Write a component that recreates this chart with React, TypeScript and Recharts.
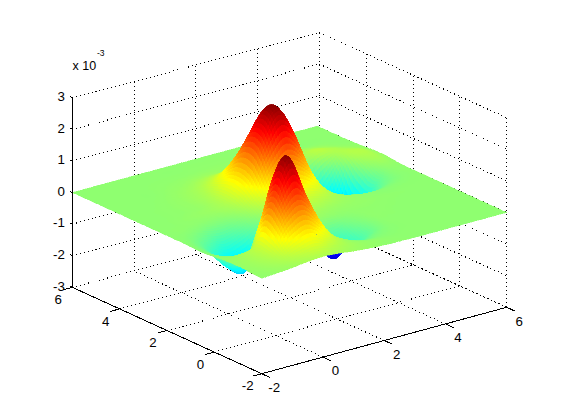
import { Scatter, ScatterChart, XAxis, YAxis } from "recharts";

const WIDTH = 561;
const HEIGHT = 420;

const X_VALUES = [-2, -1.5, -1, -0.5, 0, 0.5, 1, 1.5, 2, 2.5, 3, 3.5, 4, 4.5, 5, 5.5, 6];
const Y_VALUES = [-2, -1.5, -1, -0.5, 0, 0.5, 1, 1.5, 2, 2.5, 3, 3.5, 4, 4.5, 5, 5.5, 6];

// surface height in units of 1e-3, one row per y value, one column per x value
const Z_ROWS = [
  [0.02, 0.05, 0.09, 0.15, 0.18, 0.15, 0.09, 0.05, 0.02, 0.01, 0, 0, 0, 0, 0, 0, 0],
  [0.04, 0.1, 0.23, 0.48, 0.63, 0.38, 0.18, 0.06, 0.01, -0.01, 0, 0, 0, 0, 0, 0, 0],
  [0.06, 0.15, 0.4, 1.25, 1.63, 1.05, 0.32, -0.02, -0.22, -0.1, -0.02, 0, 0, 0, 0, 0, 0],
  [0.05, 0.12, 0.4, 1.7, 2.84, 1.6, 0.45, -0.25, -0.6, -0.3, -0.03, 0, 0, 0, 0, 0, 0],
  [0.01, -0.13, -0.42, 0.75, 2.1, 1.2, 0.38, -0.2, -0.42, -0.15, 0, 0.01, 0, 0, 0, 0, 0],
  [-0.02, -0.3, -0.8, -0.9, 0.25, 0.4, 0.3, 0.12, 0, 0, 0.02, 0.02, 0.01, 0, 0, 0, 0],
  [-0.01, -0.25, -0.78, -1.1, -0.95, -0.5, -0.1, 0.1, 0.16, 0.11, 0.07, 0.04, 0.01, 0, 0, 0, 0],
  [0, -0.1, -0.32, -0.58, -0.42, -0.15, 0.15, 0.38, 0.51, 0.39, 0.18, 0.01, -0.1, -0.1, -0.04, -0.01, 0],
  [0, 0, -0.04, -0.1, -0.08, 0.1, 0.45, 1.12, 1.5, 1.1, 0.3, -0.4, -0.8, -0.62, -0.23, -0.04, 0],
  [0, 0, 0.02, 0.04, 0.09, 0.26, 0.85, 1.98, 2.71, 1.96, 0.35, -1.2, -2.3, -1.7, -0.48, -0.02, 0.01],
  [0, 0, 0.01, 0.03, 0.08, 0.3, 0.9, 1.98, 2.65, 1.9, 0.3, -1.35, -2.5, -1.75, -0.25, 0.14, 0.05],
  [0, 0, 0.01, 0.03, 0.08, 0.22, 0.62, 1.2, 1.39, 1.02, 0.2, -0.7, -1.25, -0.65, 0.1, 0.22, 0.06],
  [0, 0, 0, 0.02, 0.06, 0.14, 0.3, 0.5, 0.45, 0.35, 0.15, -0.06, -0.05, 0.2, 0.2, 0.12, 0.03],
  [0, 0, 0, 0, 0.03, 0.06, 0.12, 0.16, 0.13, 0.11, 0.07, 0.03, 0.08, 0.15, 0.1, 0.03, 0.01],
  [0, 0, 0, 0, 0.01, 0.02, 0.03, 0.04, 0.04, 0.04, 0.03, 0.02, 0.01, 0, 0, 0, 0],
  [0, 0, 0, 0, 0, 0, 0, 0.01, 0.01, 0.01, 0, 0, 0, 0, 0, 0, 0],
  [0, 0, 0, 0, 0, 0, 0, 0, 0, 0, 0, 0, 0, 0, 0, 0, 0],
];

const X_TICKS = [-2, 0, 2, 4, 6];
const Y_TICKS = [-2, 0, 2, 4, 6];
const Z_TICKS = [-3, -2, -1, 0, 1, 2, 3];

const Z_MIN = -3.08;
const Z_MAX = 2.9;
const SUBDIV = 8;

// default matlab view, fitted to the box corners in the picture
function project(x: number, y: number, z: number) {
  const dx = x + 2;
  const dy = y + 2;
  return {
    sx: 261.7 + dx * 30.625 - dy * 23.675,
    sy: 373.7 - dx * 8.3 - dy * 10.8 - (z + 3) * 31.6,
  };
}

// walls are drawn slightly off from the surface towards the back corner
function projectBox(x: number, y: number, z: number) {
  const p = project(x, y, z);
  const w = ((x + 2) / 8) * ((y + 2) / 8);
  return { sx: p.sx + w * 2, sy: p.sy + w * 1.2 };
}

function jet(t: number) {
  const c = (v: number) => Math.round(255 * Math.max(0, Math.min(1, v)));
  const r = 1.5 - Math.abs(4 * t - 3);
  const g = 1.5 - Math.abs(4 * t - 2);
  const b = 1.5 - Math.abs(4 * t - 1);
  return `rgb(${c(r)},${c(g)},${c(b)})`;
}

function catmull(a: number, b: number, c: number, d: number, t: number) {
  return 0.5 * (2 * b + (c - a) * t + (2 * a - 5 * b + 4 * c - d) * t * t + (3 * b - a - 3 * c + d) * t * t * t);
}

// smooth shading between the table values
function heightAt(ix: number, tx: number, iy: number, ty: number) {
  const cols = X_VALUES.length - 1;
  const rows = Y_VALUES.length - 1;
  const cl = (v: number, m: number) => Math.max(0, Math.min(m, v));
  const rowVal = (r: number) => {
    const row = Z_ROWS[cl(r, rows)];
    return catmull(row[cl(ix - 1, cols)], row[cl(ix, cols)], row[cl(ix + 1, cols)], row[cl(ix + 2, cols)], tx);
  };
  return catmull(rowVal(iy - 1), rowVal(iy), rowVal(iy + 1), rowVal(iy + 2), ty);
}

function buildCells() {
  const cells: any[] = [];
  const nx = (X_VALUES.length - 1) * SUBDIV;
  const ny = (Y_VALUES.length - 1) * SUBDIV;
  const split = (s: number, last: number) => {
    const k = Math.min(Math.floor(s / SUBDIV), last - 1);
    return [k, s / SUBDIV - k];
  };
  const corner = (a: number, b: number) => {
    const [ix, tx] = split(a, X_VALUES.length - 1);
    const [iy, ty] = split(b, Y_VALUES.length - 1);
    const z = heightAt(ix, tx, iy, ty);
    const x = X_VALUES[ix] + (X_VALUES[ix + 1] - X_VALUES[ix]) * tx;
    const y = Y_VALUES[iy] + (Y_VALUES[iy + 1] - Y_VALUES[iy]) * ty;
    return { ...project(x, y, z), z };
  };
  // back to front so that nearer cells cover farther ones
  for (let i = nx - 1; i >= 0; i--) {
    for (let j = ny - 1; j >= 0; j--) {
      const c = [corner(i, j), corner(i + 1, j), corner(i + 1, j + 1), corner(i, j + 1)];
      const sx = (c[0].sx + c[1].sx + c[2].sx + c[3].sx) / 4;
      const sy = (c[0].sy + c[1].sy + c[2].sy + c[3].sy) / 4;
      const z = (c[0].z + c[1].z + c[2].z + c[3].z) / 4;
      cells.push({
        sx,
        sy,
        offsets: c.map((p) => `${p.sx - sx},${p.sy - sy}`).join(" "),
        fill: jet((z - Z_MIN) / (Z_MAX - Z_MIN)),
      });
    }
  }
  return cells;
}

function buildGrid() {
  const lines: any[][] = [];
  for (const z of Z_TICKS) {
    lines.push([projectBox(-2, 6, z), projectBox(6, 6, z)]);
    lines.push([projectBox(6, 6, z), projectBox(6, -2, z)]);
  }
  for (const x of X_TICKS) {
    lines.push([projectBox(x, 6, -3), projectBox(x, 6, 3)]);
    lines.push([projectBox(x, -2, -3), projectBox(x, 6, -3)]);
  }
  for (const y of Y_TICKS) {
    lines.push([projectBox(6, y, -3), projectBox(6, y, 3)]);
    lines.push([projectBox(-2, y, -3), projectBox(6, y, -3)]);
  }
  return lines;
}

function buildAxes() {
  const lines: any[][] = [
    [project(-2, 6, -3), project(-2, 6, 3)],
    [project(-2, 6, -3), project(-2, -2, -3)],
    [project(-2, -2, -3), project(6, -2, -3)],
  ];
  for (const z of Z_TICKS) lines.push([project(-2, 6, z), project(-2, 6.1, z)]);
  for (const y of Y_TICKS) lines.push([project(-2, y, -3), project(-2.3, y, -3)]);
  for (const x of X_TICKS) lines.push([project(x, -2, -3), project(x, -2.35, -3)]);
  return lines;
}

function buildLabels() {
  const labels: any[] = [];
  for (const z of Z_TICKS) {
    const p = project(-2, 6, z);
    labels.push({ sx: p.sx - 7.5, sy: p.sy - 1.5, text: String(z), anchor: "end", size: 13.3 });
  }
  for (const y of Y_TICKS) {
    const p = project(-2, y, -3);
    labels.push({ sx: p.sx - 14, sy: p.sy + 12, text: String(y), anchor: "middle", size: 13.3 });
  }
  for (const x of X_TICKS) {
    const p = project(x, -2, -3);
    labels.push({ sx: p.sx + 12.5, sy: p.sy + 13.5, text: String(x), anchor: "middle", size: 13.3 });
  }
  const top = project(-2, 6, 3);
  labels.push({ sx: top.sx + 12, sy: top.sy - 32, text: "x 10", anchor: "middle", size: 12.5 });
  labels.push({ sx: top.sx + 28.5, sy: top.sy - 44.5, text: "-3", anchor: "middle", size: 8.5 });
  return labels;
}

const cells = buildCells();
const gridLines = buildGrid();
const axisLines = buildAxes();
const labels = buildLabels();

const CellShape = (props: any) => (
  <polygon
    transform={`translate(${props.cx},${props.cy})`}
    points={props.payload.offsets}
    fill={props.payload.fill}
    stroke={props.payload.fill}
    strokeWidth={0.4}
  />
);

const LabelShape = (props: any) => (
  <text
    x={props.cx}
    y={props.cy}
    dy="0.36em"
    textAnchor={props.payload.anchor}
    fontFamily="'Liberation Sans', Arial, sans-serif"
    fontSize={props.payload.size}
    fill="#000"
  >
    {props.payload.text}
  </text>
);

const NoDot = () => <g />;

export default function App() {
  return (
    <div style={{ position: "absolute", left: 0, top: 0, background: "#fff", shapeRendering: "crispEdges" }}>
      <ScatterChart width={WIDTH} height={HEIGHT} margin={{ top: 0, right: 0, bottom: 0, left: 0 }}>
        <XAxis type="number" dataKey="sx" domain={[0, WIDTH]} hide />
        <YAxis type="number" dataKey="sy" domain={[0, HEIGHT]} reversed hide />
        {gridLines.map((line, i) => (
          <Scatter
            key={`grid-${i}`}
            data={line}
            line={{ stroke: "#000", strokeWidth: 1, strokeDasharray: "1 3" }}
            shape={NoDot}
            isAnimationActive={false}
          />
        ))}
        <Scatter data={cells} shape={CellShape} isAnimationActive={false} />
        {axisLines.map((line, i) => (
          <Scatter
            key={`axis-${i}`}
            data={line}
            line={{ stroke: "#000", strokeWidth: 1 }}
            shape={NoDot}
            isAnimationActive={false}
          />
        ))}
        <Scatter data={labels} shape={LabelShape} isAnimationActive={false} />
      </ScatterChart>
    </div>
  );
}
